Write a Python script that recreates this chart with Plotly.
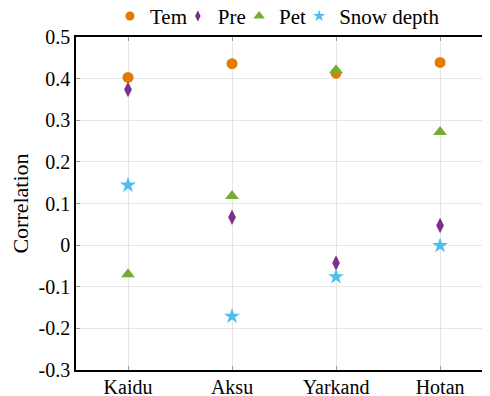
import plotly.graph_objects as go

categories = ["Kaidu", "Aksu", "Yarkand", "Hotan"]
tem = [0.403, 0.436, 0.413, 0.439]
pre = [0.374, 0.067, -0.043, 0.047]
pet = [-0.070, 0.118, 0.420, 0.272]
snow = [0.144, -0.171, -0.076, -0.001]
y_ticks = [-0.3, -0.2, -0.1, 0, 0.1, 0.2, 0.3, 0.4, 0.5]
y_labels = ["-0.3", "-0.2", "-0.1", "0", "0.1", "0.2", "0.3", "0.4", "0.5"]

xpos = list(range(1, len(categories) + 1))

# name, values, symbol, plot size, legend size, colour, legend id, legend x (paper)
series = [
    ("Tem", tem, "circle", 11, 9, "#E27C00", "legend", 0.082),
    ("Pre", pre, "diamond-tall", 11, 8, "#7E2F8E", "legend2", 0.246),
    ("Pet", pet, "triangle-up", 12, 10, "#77AC30", "legend3", 0.394),
    ("Snow depth", snow, "star", 12, 9, "#4DBEEE", "legend4", 0.539),
]

W, H = 482, 388
ML, MR, MT, MB = 68, 0, 29, 26
fig = go.Figure()
font = "Times New Roman"
legends = {}
for name, vals, sym, size, lsize, col, leg, lx in series:
    fig.add_trace(go.Scatter(
        x=xpos, y=vals, mode="markers", name=name, showlegend=False,
        marker=dict(symbol=sym, size=size, color=col, line=dict(width=0)),
    ))
    fig.add_trace(go.Scatter(
        x=[None], y=[None], mode="markers", name=name, showlegend=True, legend=leg,
        marker=dict(symbol=sym, size=lsize, color=col, line=dict(width=0)),
    ))
    legends[leg] = dict(orientation="h", x=lx, xanchor="left", y=1.062, yanchor="middle",
                        font=dict(size=21, family=font, color="black"),
                        bgcolor="rgba(0,0,0,0)", borderwidth=0, itemwidth=30)

fig.update_layout(
    width=W, height=H,
    margin=dict(l=ML, r=MR, t=MT, b=MB, autoexpand=False),
    paper_bgcolor="white", plot_bgcolor="white",
    font=dict(family=font, size=20, color="black"),
    showlegend=True,
    **legends,
)
fig.update_xaxes(
    range=[0.5, 4.48], tickmode="array", tickvals=xpos, ticktext=categories,
    showgrid=True, gridcolor="#e6e6e6", gridwidth=1,
    showline=True, linecolor="black", linewidth=1.5, mirror="allticks",
    ticks="inside", ticklen=4, tickcolor="#999999", tickwidth=1,
    zeroline=False, automargin=False, tickfont=dict(size=20, family=font),
    ticklabelstandoff=-2,
)
fig.update_yaxes(
    range=[-0.3, 0.5], tickmode="array", tickvals=y_ticks, ticktext=y_labels,
    showgrid=True, gridcolor="#e6e6e6", gridwidth=1,
    showline=True, linecolor="black", linewidth=1.5,
    ticks="inside", ticklen=4, tickcolor="#999999", tickwidth=1,
    zeroline=False, automargin=False, tickfont=dict(size=20, family=font),
    title=dict(text="Correlation", font=dict(size=22, family=font), standoff=6),
)
fig.write_html("out.html")
